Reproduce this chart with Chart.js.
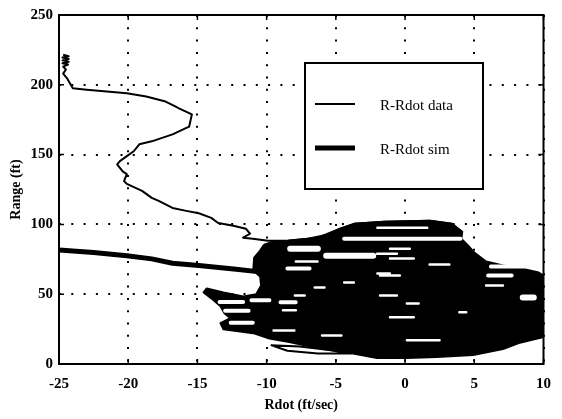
<!DOCTYPE html>
<html>
<head>
    <title>R-Rdot</title>
    <script src="https://cdn.jsdelivr.net/npm/chart.js"></script>
    <style>
        body { margin: 0; background: #fff; }
        canvas { display: block; }
    </style>
</head>
<body>
    <canvas id="rangeChart" width="562" height="419"></canvas>

    <script>
        // axis ticks
        const xTicks = [-25, -20, -15, -10, -5, 0, 5, 10];
        const yTicks = [0, 50, 100, 150, 200, 250];

        const dataRdot = [-24.7, -24.3, -24.75, -24.3, -24.75, -24.3, -24.75, -24.35, -24.7, -24.5, -24.7, -24.4, -24.2, -24.0, -23.0,
            -20.1, -18.7, -17.3, -16.6, -16.3, -15.4, -15.6, -16.8, -18.3, -19.2, -19.6, -20.1, -20.6, -20.8, -20.4,
            -20.1, -20.3, -20.1, -19.0, -18.3, -17.8, -16.8, -15.8, -14.9, -14.0, -13.5, -12.4, -11.5, -11.2, -11.7,
            -11.0, -9.9, -8.5, -6.3, -4.7, -3.7, -1.5, 1.8, 3.4, 4.1];
        const dataRange = [221.5, 220.5, 219.5, 218.5, 217.5, 216.5, 215.5, 214.5, 213, 211, 208, 204.4, 201, 197.5, 196.5,
            194, 191.6, 188, 184.5, 183, 178.8, 170, 164.5, 159.5, 157.4, 152.4, 148.9, 145.3, 143, 138,
            136, 131, 129, 124, 119, 116.8, 111.8, 109.7, 108, 104.7, 101, 99, 96.9, 93.3, 90.5,
            89.7, 88.3, 88.3, 90.5, 96.9, 100.4, 101.9, 102.6, 100.4, 94.7];

        // simulated track (thick line) before it enters the cluster
        const simRdot = [-25, -22.5, -20.1, -18.3, -16.8, -14.9, -12.2, -10.5];
        const simRange = [81.7, 79.8, 77.6, 75.3, 72.2, 70.5, 67.8, 66.0];

        // outline of the dense cluster of overlapping loops
        const clusterRdot = [-10.18, -9.54, -8.46, -7.03, -5.60, -4.67, -3.67, -1.52, 1.77, 3.35, 4.13, 4.06, 4.56, 5.0, 5.85,
            7.07, 8.36, 9.65, 10.0, 10.4, 10.4, 9.93, 8.21, 7.07, 4.92, 2.27, 0.13, -2.02, -3.95, -6.32,
            -8.46, -9.90, -10.97, -13.12, -13.33, -12.62, -13.05, -13.33, -13.83, -14.55, -14.33, -13.12, -11.69, -10.75, -10.40,
            -10.47, -10.97, -10.90, -10.47, -10.18];
        const clusterRange = [85.5, 87.6, 88.3, 89.7, 92.6, 96.9, 100.4, 101.9, 102.6, 100.4, 94.7, 89.7, 84.8, 79.8, 73.4,
            70.5, 68.4, 65.5, 63.4, 61.3, 21.4, 19.2, 15.0, 10.7, 6.4, 5.0, 4.3, 4.3, 7.8, 11.5,
            16.0, 18.5, 22.1, 24.9, 29.2, 32.8, 36.3, 41.3, 45.6, 51.3, 54.1, 51.3, 48.4, 49.9, 56.3,
            62.7, 67.0, 76.2, 81.2, 85.5];

        // open loop under the cluster
        const loopRdot = [-9.7, -8.5, -6.3, -3.9, -5.5, -7.6, -9.7];
        const loopRange = [13.5, 9.5, 7.6, 7.6, 10.0, 12.5, 13.5];

        // white gaps between loops: [rdot start, rdot end, range]
        const gapsWide = [[-8.3, -6.3, 82.6], [-5.7, -2.3, 77.6], [8.5, 9.3, 47.7]];
        const gapsMid = [[-4.4, 4.0, 89.7], [-8.5, -6.9, 68.4], [6.2, 8.6, 69.8], [6.0, 7.7, 63.4],
            [-11.1, -9.8, 45.6], [-9.0, -7.9, 44.2], [-13.4, -11.7, 44.5], [-13.0, -11.3, 38.1], [-12.6, -11.0, 29.6]];
        const gapsThin = [[-7.89, -6.32, 73.4], [-1.09, 0.63, 75.5], [1.77, 3.20, 71.2], [-1.81, -0.38, 63.4],
            [-1.81, -0.59, 49.1], [0.13, 0.98, 43.4], [-1.09, 0.63, 33.5], [0.13, 2.49, 17.1], [3.92, 4.42, 37.0],
            [5.85, 7.07, 56.3], [-8.82, -7.89, 38.5], [-6.53, -5.82, 54.8], [-7.96, -7.25, 49.1],
            [-1.09, 0.34, 82.6], [-2.02, -0.59, 79.0], [-2.0, -1.1, 64.8], [-4.4, -3.7, 58.4],
            [-2.0, 1.6, 97.6], [-9.5, -8.0, 24.0], [-6.0, -4.6, 20.5]];

        function toPoints(xs, ys) {
            return xs.map((v, i) => ({ x: v, y: ys[i] }));
        }
        function gapPoints(list) {
            const pts = [];
            list.forEach(g => {
                pts.push({ x: g[0], y: g[2] }, { x: g[1], y: g[2] }, { x: g[1], y: null });
            });
            return pts;
        }

        const serif = "'Liberation Serif', 'DejaVu Serif', serif";

        const framePlugin = {
            id: 'frame',
            afterDatasetsDraw(chart) {
                const { ctx, chartArea: a, scales } = chart;
                ctx.save();
                ctx.strokeStyle = '#000';
                ctx.lineWidth = 2;
                ctx.strokeRect(a.left, a.top, a.right - a.left, a.bottom - a.top);

                // inward tick marks on all four sides
                ctx.lineWidth = 1.5;
                ctx.beginPath();
                scales.x.ticks.forEach(t => {
                    const px = scales.x.getPixelForValue(t.value);
                    ctx.moveTo(px, a.bottom); ctx.lineTo(px, a.bottom - 5);
                    ctx.moveTo(px, a.top); ctx.lineTo(px, a.top + 5);
                });
                scales.y.ticks.forEach(t => {
                    const py = scales.y.getPixelForValue(t.value);
                    ctx.moveTo(a.left, py); ctx.lineTo(a.left + 5, py);
                    ctx.moveTo(a.right, py); ctx.lineTo(a.right - 5, py);
                });
                ctx.stroke();

                // legend box inside the plot
                const bx = a.left + 246, by = a.top + 48, bw = 178, bh = 126;
                ctx.fillStyle = '#fff';
                ctx.fillRect(bx, by, bw, bh);
                ctx.lineWidth = 2;
                ctx.strokeRect(bx, by, bw, bh);
                const items = [chart.data.datasets[1], chart.data.datasets[2]];
                ctx.font = '15px ' + serif;
                ctx.textBaseline = 'middle';
                ctx.fillStyle = '#000';
                items.forEach((ds, i) => {
                    const ly = by + 41 + i * 44;
                    ctx.lineWidth = ds.borderWidth;
                    ctx.beginPath();
                    ctx.moveTo(bx + 10, ly);
                    ctx.lineTo(bx + 50, ly);
                    ctx.stroke();
                    ctx.fillText(ds.label, bx + 75, ly + 2);
                });
                ctx.restore();
            }
        };

        const ctx = document.getElementById('rangeChart').getContext('2d');
        const gapStyle = { showLine: true, borderColor: '#fff', spanGaps: false, borderCapStyle: 'round' };
        const rangeChart = new Chart(ctx, {
            type: 'scatter',
            data: {
                datasets: [
                    { ...gapStyle, label: 'gaps wide', data: gapPoints(gapsWide), borderWidth: 6 },
                    { label: 'R-Rdot data', data: toPoints(dataRdot, dataRange), showLine: true, borderColor: '#000', borderWidth: 2 },
                    { label: 'R-Rdot sim', data: toPoints(simRdot, simRange), showLine: true, borderColor: '#000', borderWidth: 5 },
                    { ...gapStyle, label: 'gaps mid', data: gapPoints(gapsMid), borderWidth: 4 },
                    { ...gapStyle, label: 'gaps thin', data: gapPoints(gapsThin), borderWidth: 2.5 },
                    { label: 'loop', data: toPoints(loopRdot, loopRange), showLine: true, borderColor: '#000', borderWidth: 2 },
                    { label: 'cluster', data: toPoints(clusterRdot, clusterRange), showLine: true, borderColor: '#000',
                      backgroundColor: '#000', borderWidth: 2, fill: 'shape' }
                ]
            },
            options: {
                responsive: false,
                animation: false,
                events: [],
                elements: { point: { radius: 0 }, line: { tension: 0, borderJoinStyle: 'round' } },
                layout: { padding: { top: 13, right: 14, left: 0, bottom: 0 } },
                plugins: { legend: { display: false }, tooltip: { enabled: false } },
                scales: {
                    x: {
                        type: 'linear', min: -25, max: 10,
                        afterBuildTicks: s => { s.ticks = xTicks.map(v => ({ value: v })); },
                        afterFit: s => { s.height = 55; },
                        grid: { color: '#000', lineWidth: 2, drawTicks: false },
                        border: { display: false, dash: [2, 10.3] },
                        ticks: { color: '#000', padding: 11, maxRotation: 0, font: { family: serif, size: 15, weight: 'bold' } },
                        title: { display: true, text: 'Rdot (ft/sec)', color: '#000', padding: { top: 0, bottom: 5 },
                                 font: { family: serif, size: 14, weight: 'bold' } }
                    },
                    y: {
                        type: 'linear', min: 0, max: 250,
                        afterBuildTicks: s => { s.ticks = yTicks.map(v => ({ value: v })); },
                        afterFit: s => { s.width = 59; },
                        grid: { color: '#000', lineWidth: 2, drawTicks: false },
                        border: { display: false, dash: [2, 10.3] },
                        ticks: { color: '#000', padding: 6, font: { family: serif, size: 15, weight: 'bold' } },
                        title: { display: true, text: 'Range (ft)', color: '#000', padding: { top: 8, bottom: 0 },
                                 font: { family: serif, size: 14, weight: 'bold' } }
                    }
                }
            },
            plugins: [framePlugin]
        });
    </script>
</body>
</html>
